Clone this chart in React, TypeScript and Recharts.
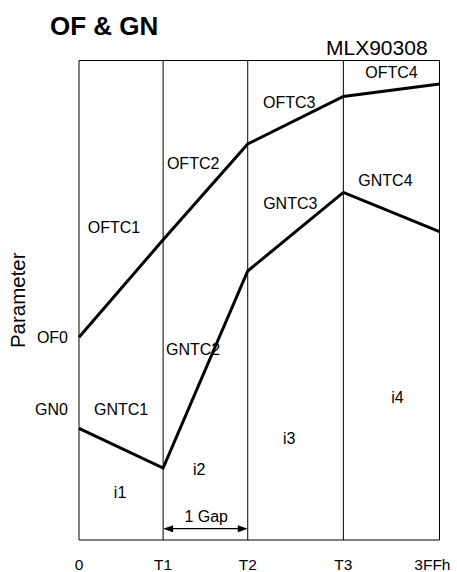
import React from 'react';
import { LineChart, Line, XAxis, YAxis, ReferenceLine, ReferenceDot, Label } from 'recharts';

const FONT = '"Liberation Sans", Arial, sans-serif';

// x positions of the breakpoints (arbitrary temperature units)
const breakX = [0, 84, 168.5, 264, 360];
const breakLabels = ['0', 'T1', 'T2', 'T3', '3FFh'];
// series values at each breakpoint
const offsetValues = [42.3, 62.6, 82.6, 92.5, 95.1];
const gainValues = [23.3, 15.0, 56.1, 72.5, 64.3];
// y-axis tick labels
const yTickValues = [27.3, 42.3];
const yTickLabels = ['GN', 'OF'].map((s) => s + '0');

// region annotations
const annotationNames = ['OFTC1', 'OFTC2', 'OFTC3', 'OFTC4', 'GNTC1', 'GNTC2', 'GNTC3', 'GNTC4', 'i1', 'i2', 'i3', 'i4', '1 Gap'];
const annotationX = [35, 114, 210, 312, 42, 114, 211, 306, 41, 120, 210, 318, 127];
const annotationY = [65.3, 78.6, 91.3, 97.5, 27.3, 39.8, 70.3, 75.1, 9.9, 14.8, 21.3, 29.8, 4.9];

const gapY = 2.36;

const data = breakX.map((x, i) => ({ x, of: offsetValues[i], gn: gainValues[i] }));

const XTick = (props: any) => {
  const { x, y, payload, index } = props;
  const idx = breakX.indexOf(payload.value);
  const last = idx === breakX.length - 1;
  return (
    <text x={last ? x + 11 : x} y={y} dy={22} textAnchor={last ? 'end' : 'middle'} fontSize={15.5} fontFamily={FONT} fill="#000">
      {breakLabels[idx]}
    </text>
  );
};

const YTick = (props: any) => {
  const { x, y, payload } = props;
  const idx = yTickValues.indexOf(payload.value);
  return (
    <text x={x - 3} y={y} dy="0.35em" textAnchor="end" fontSize={16} fontFamily={FONT} fill="#000">
      {yTickLabels[idx]}
    </text>
  );
};

const ArrowShape = (p: any) => {
  const { x1, y1, x2, y2 } = p;
  const L = 10;
  const H = 3.5;
  return (
    <g>
      <line x1={x1 + 4} y1={y1} x2={x2 - 4} y2={y2} stroke="#000" strokeWidth={1.2} />
      <polygon points={`${x1},${y1} ${x1 + L},${y1 - H} ${x1 + L},${y1 + H}`} fill="#000" />
      <polygon points={`${x2},${y2} ${x2 - L},${y2 - H} ${x2 - L},${y2 + H}`} fill="#000" />
    </g>
  );
};

export default function App() {
  return (
    <div style={{ position: 'absolute', left: 0, top: 0, width: 457, height: 572, background: '#fff' }}>
      <svg width={457} height={572} style={{ position: 'absolute', left: 0, top: 0 }}>
        <text x={50} y={35} fontSize={26} fontWeight="bold" fontFamily={FONT} fill="#000">OF &amp; GN</text>
        <text x={326} y={55} fontSize={21} fontFamily={FONT} fill="#000">MLX90308</text>
      </svg>
      <div style={{ position: 'absolute', left: 0, top: 0 }}>
        <LineChart width={457} height={572} data={data} margin={{ top: 60.5, right: 17.5, left: 0, bottom: 0 }}>
          <XAxis
            type="number"
            dataKey="x"
            domain={[0, 360]}
            ticks={breakX}
            interval={0}
            axisLine={false}
            tickLine={false}
            height={32}
            tick={<XTick />}
          />
          <YAxis
            type="number"
            domain={[0, 100]}
            ticks={yTickValues}
            interval={0}
            axisLine={false}
            tickLine={false}
            width={79}
            tick={<YTick />}
          >
            <Label
              content={(lp: any) => {
                const vb = lp.viewBox;
                const cx = vb.x + 18;
                const cy = vb.y + vb.height / 2;
                return (
                  <text x={cx} y={cy} transform={`rotate(-90 ${cx} ${cy})`} textAnchor="middle" dy="0.35em" fontSize={20.5} fontFamily={FONT} fill="#000">
                    Parameter
                  </text>
                );
              }}
            />
          </YAxis>
          <ReferenceLine y={0} stroke="#000" strokeWidth={1} />
          <ReferenceLine y={100} stroke="#000" strokeWidth={1} />
          {breakX.map((bx) => (
            <ReferenceLine key={'v' + bx} x={bx} stroke="#000" strokeWidth={1} />
          ))}
          <ReferenceLine
            segment={[{ x: breakX[1], y: gapY }, { x: breakX[2], y: gapY }]}
            shape={ArrowShape}
          />
          {annotationNames.map((name, i) => (
            <ReferenceDot
              key={name}
              x={annotationX[i]}
              y={annotationY[i]}
              r={0}
              stroke="none"
              fill="none"
              label={{ value: name, position: 'center', fontSize: 16, fill: '#000', fontFamily: FONT }}
            />
          ))}
          <Line type="linear" dataKey="of" stroke="#000" strokeWidth={3} dot={false} isAnimationActive={false} />
          <Line type="linear" dataKey="gn" stroke="#000" strokeWidth={3} dot={false} isAnimationActive={false} />
        </LineChart>
      </div>
    </div>
  );
}
